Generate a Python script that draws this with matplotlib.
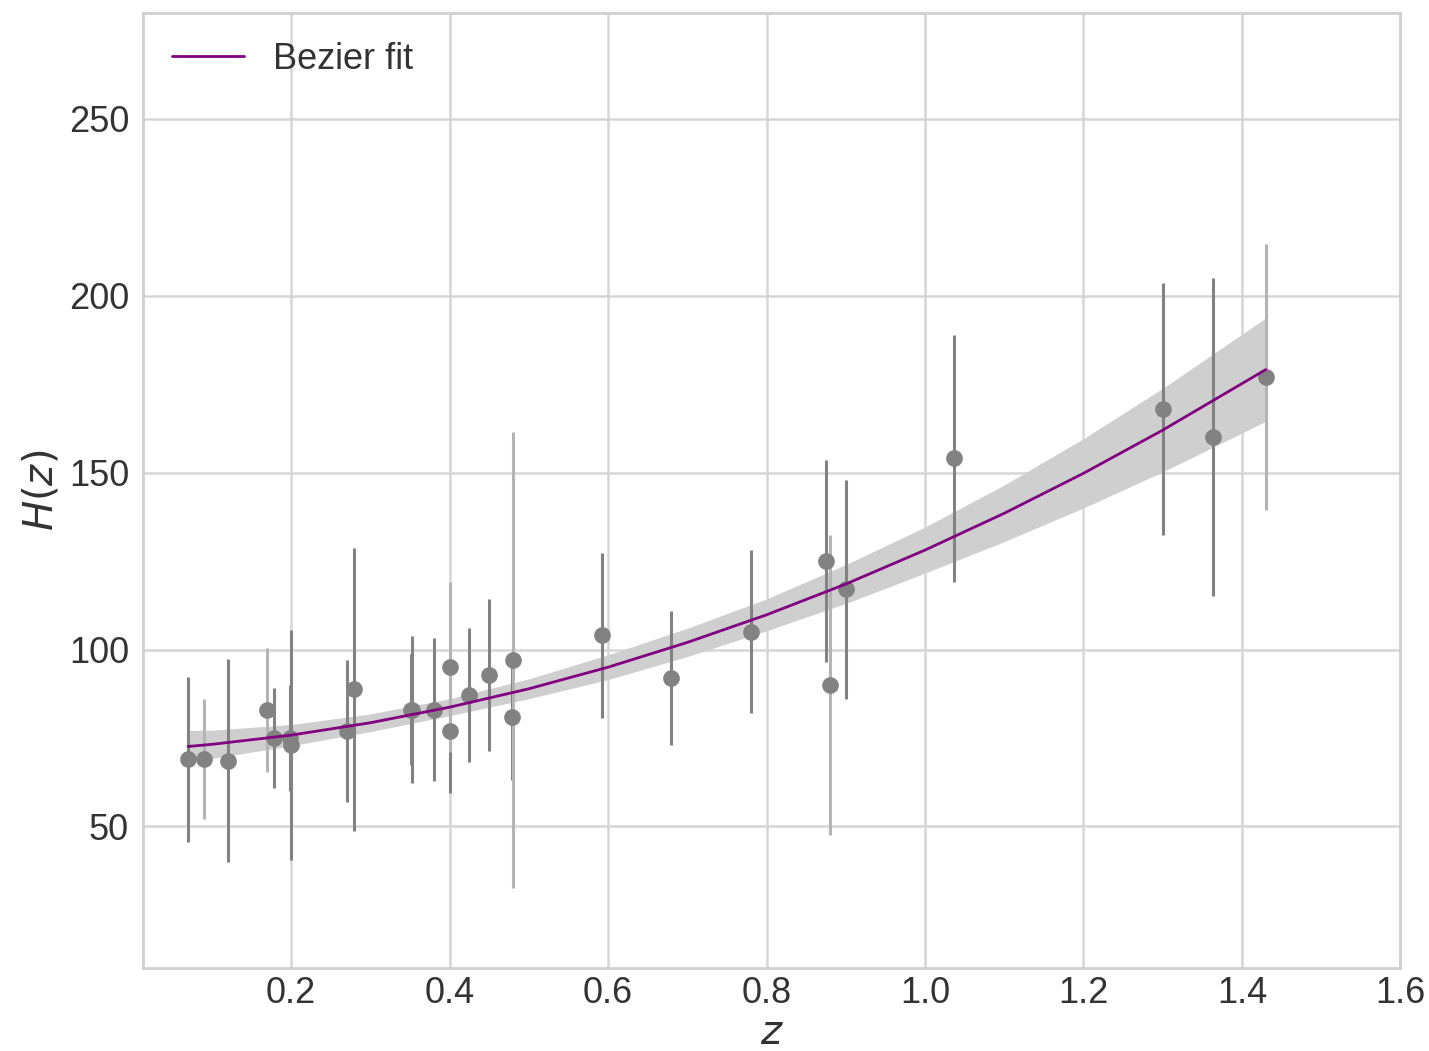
import numpy as np
import matplotlib
matplotlib.use("Agg")
import matplotlib.pyplot as plt

# Cosmic-chronometer H(z) measurements
z_obs = [0.07, 0.09, 0.12, 0.17, 0.179, 0.199, 0.20, 0.27, 0.28, 0.3519,
         0.352, 0.3802, 0.40, 0.4004, 0.4247, 0.4497, 0.4783, 0.48, 0.593,
         0.68, 0.781, 0.875, 0.88, 0.90, 1.037, 1.30, 1.363, 1.43]
H_obs = [69.0, 69.0, 68.6, 83.0, 75.0, 75.0, 72.9, 77.0, 88.8, 83.0,
         83.0, 83.0, 95.0, 77.0, 87.1, 92.8, 80.9, 97.0, 104.0,
         92.0, 105.0, 125.0, 90.0, 117.0, 154.0, 168.0, 160.0, 177.0]
H_err = [23.3, 17.0, 28.7, 17.5, 14.0, 15.0, 32.5, 20.0, 40.0, 15.7,
         20.7, 20.3, 24.0, 17.5, 19.0, 21.4, 17.8, 64.5, 23.3,
         19.0, 23.0, 28.5, 42.4, 31.0, 35.0, 35.5, 45.0, 37.5]

# Older sample, drawn with fainter error bars
older_z = [0.09, 0.17, 0.40, 0.48, 0.88, 1.43]

# Bezier reconstruction and its confidence band
z_fit = [0.07, 0.10, 0.20, 0.30, 0.40, 0.50, 0.60, 0.70, 0.80, 0.90,
         1.00, 1.10, 1.20, 1.30, 1.43]
H_fit = [72.6, 73.2, 75.8, 79.3, 83.7, 88.9, 95.0, 102.0, 109.8, 118.5,
         128.1, 138.5, 149.8, 162.0, 179.1]
H_lo = [68.6, 69.2, 72.8, 76.8, 81.3, 86.1, 91.5, 98.0, 105.3, 113.0,
        121.6, 130.5, 140.0, 150.2, 164.5]
H_hi = [77.1, 77.2, 78.8, 81.8, 86.1, 91.7, 98.5, 106.0, 114.3, 124.0,
        134.6, 146.5, 159.6, 173.8, 193.7]

x_ticks = [0.2, 0.4, 0.6, 0.8, 1.0, 1.2, 1.4, 1.6]
y_ticks = [50, 100, 150, 200, 250]

plt.style.use("seaborn-v0_8-whitegrid")
plt.rcParams["font.family"] = ["Liberation Sans", "DejaVu Sans"]
plt.rcParams["mathtext.fontset"] = "dejavusans"

fig = plt.figure(figsize=(7.145, 5.255), dpi=200)
ax = fig.add_axes([0.100, 0.079, 0.880, 0.909])

z_arr = np.array(z_obs)
H_arr = np.array(H_obs)
e_arr = np.array(H_err)
faint = np.isin(z_arr, older_z)

ax.fill_between(z_fit, H_lo, H_hi, color="#cfcfcf", lw=0, zorder=2)
ax.plot(z_fit, H_fit, color="purple", lw=1.0, label="Bezier fit", zorder=4)

ax.errorbar(z_arr[~faint], H_arr[~faint], yerr=e_arr[~faint], fmt="o",
            color="#828282", ms=5.0, elinewidth=1.1, capsize=0, zorder=3)
ax.errorbar(z_arr[faint], H_arr[faint], yerr=e_arr[faint], fmt="none",
            ecolor="#b4b4b4", elinewidth=1.1, capsize=0, zorder=3)
ax.plot(z_arr[faint], H_arr[faint], "o", color="#828282", ms=5.0, zorder=3.5)

ax.set_xlim(0.013, 1.6)
ax.set_ylim(10, 280)
ax.set_xticks(x_ticks)
ax.set_yticks(y_ticks)
ax.tick_params(labelsize=13, colors="#333333")
ax.tick_params(axis="x", pad=3)
ax.tick_params(axis="y", pad=5)
ax.set_xlabel("$z$", fontsize=14.5, color="#333333", labelpad=1)
ax.set_ylabel("$H(z)$", fontsize=14.5, color="#333333", labelpad=3)
for s in ax.spines.values():
    s.set_color("#d0d0d0")
    s.set_linewidth(1.0)
ax.grid(color="#d6d6d6", lw=0.9)

ax.legend(loc="upper left", fontsize=13, frameon=False, handlelength=2.0,
          handletextpad=0.8, borderaxespad=0.4, labelcolor="#333333")

fig.savefig("out.png", dpi=200)
